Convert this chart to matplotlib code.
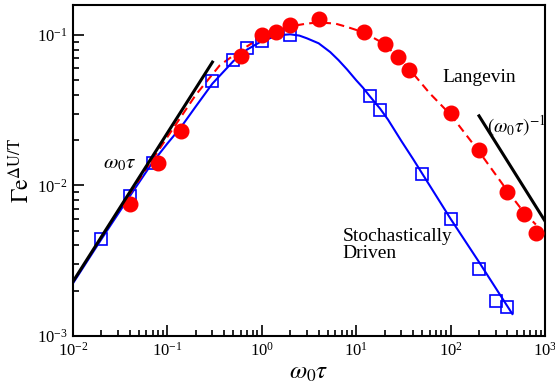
import matplotlib
matplotlib.use("Agg")
import matplotlib.pyplot as plt
from matplotlib.ticker import LogLocator, NullFormatter

plt.rcParams['font.family'] = ['Liberation Serif', 'DejaVu Serif']
plt.rcParams['mathtext.fontset'] = 'stix'

# stochastically driven: simulation points and theory curve
sq_x = [0.02, 0.04, 0.07, 0.3, 0.5, 0.7, 1.0, 2, 14, 18, 50, 100, 200, 300, 400]
sq_y = [0.0044, 0.0085, 0.0141, 0.0496, 0.068, 0.082, 0.091, 0.1, 0.0394, 0.0318,
        0.012, 0.006, 0.00278, 0.0017, 0.00156]
blue_x = [0.01, 0.02, 0.04, 0.07, 0.1, 0.14, 0.2, 0.3, 0.5, 0.7, 1.0, 1.5, 2, 2.5, 3,
          4, 5.3, 6.5, 8, 10, 11.8, 14, 17.9, 21.7, 30, 40, 50, 100, 200, 451]
blue_y = [0.00224, 0.0044, 0.0085, 0.0143, 0.019, 0.0245, 0.0335, 0.0475, 0.067, 0.08,
          0.091, 0.0995, 0.101, 0.099, 0.095, 0.088, 0.077, 0.068, 0.059, 0.050,
          0.0446, 0.039, 0.0324, 0.0274, 0.0198, 0.015, 0.012, 0.006, 0.0031, 0.0014]

# Langevin: simulation points and theory curve
ci_x = [0.04, 0.08, 0.14, 0.6, 1.0, 1.4, 2, 4, 12, 20, 28, 36, 100, 200, 400, 600, 800]
ci_y = [0.0075, 0.0142, 0.0231, 0.0726, 0.1, 0.105, 0.116, 0.128, 0.105, 0.087,
        0.0715, 0.0586, 0.0304, 0.0171, 0.0091, 0.0065, 0.0048]
red_x = [0.04, 0.1, 0.2, 0.36, 0.6, 1.0, 1.5, 2, 3, 4, 6, 8, 12, 20, 36, 60, 100,
         200, 400, 600, 800]
red_y = [0.0088, 0.021, 0.040, 0.063, 0.079, 0.097, 0.108, 0.114, 0.119, 0.121, 0.119,
         0.113, 0.104, 0.087, 0.060, 0.041, 0.0295, 0.0168, 0.0092, 0.0066, 0.0055]

# asymptotes
low_x = [0.01, 0.3]
low_y = [0.0023, 0.066]
high_x = [200, 1000]
high_y = [0.029, 0.0058]

fig = plt.figure(figsize=(5.55, 3.87), dpi=100)
ax = fig.add_axes([0.1315, 0.1318, 0.8505, 0.8552])

ax.plot(blue_x, blue_y, color='#0000ff', lw=1.5, zorder=2)
ax.plot(red_x, red_y, color='#ff0000', lw=1.5, ls=(0, (4, 2.5)), zorder=2)
ax.plot(sq_x, sq_y, ls='none', marker='s', ms=8, mfc='none', mec='#0000ff', mew=1.2, zorder=3)
ax.plot(ci_x, ci_y, ls='none', marker='o', ms=10.5, color='#ff0000', zorder=4)
ax.plot(low_x, low_y, color='black', lw=2.2, zorder=5)
ax.plot(high_x, high_y, color='black', lw=2.2, zorder=5)

ax.set_xscale('log')
ax.set_yscale('log')
ax.set_xlim(1e-2, 1e3)
ax.set_ylim(1e-3, 0.158)

ax.xaxis.set_major_locator(LogLocator(base=10, numticks=10))
ax.xaxis.set_minor_locator(LogLocator(base=10, subs=range(2, 10), numticks=20))
ax.xaxis.set_minor_formatter(NullFormatter())
ax.yaxis.set_minor_formatter(NullFormatter())

ax.tick_params(which='both', direction='in', top=False, right=False, labelsize=12, width=1.2)
ax.tick_params(which='major', length=8, pad=4)
ax.tick_params(which='minor', length=4)
for s in ax.spines.values():
    s.set_linewidth(1.5)

ax.set_xlabel(r'$\omega_0\tau$', fontsize=18, labelpad=2)
ax.set_ylabel(r'$\mathrm{\Gamma e}^{\mathrm{\Delta U/T}}$', fontsize=17, labelpad=2)

ax.text(0.021, 0.0140, r'$\omega_0\tau$', fontsize=15, ha='left', va='center')
ax.text(81, 0.052, 'Langevin', fontsize=14, ha='left', va='center')
ax.text(245, 0.025, r'$(\omega_0\tau)^{-1}$', fontsize=14, ha='left', va='center')
ax.text(7.2, 0.0040, 'Stochastically\nDriven', fontsize=14, ha='left', va='center',
        linespacing=1.0)

fig.savefig('out.png', dpi=100)
